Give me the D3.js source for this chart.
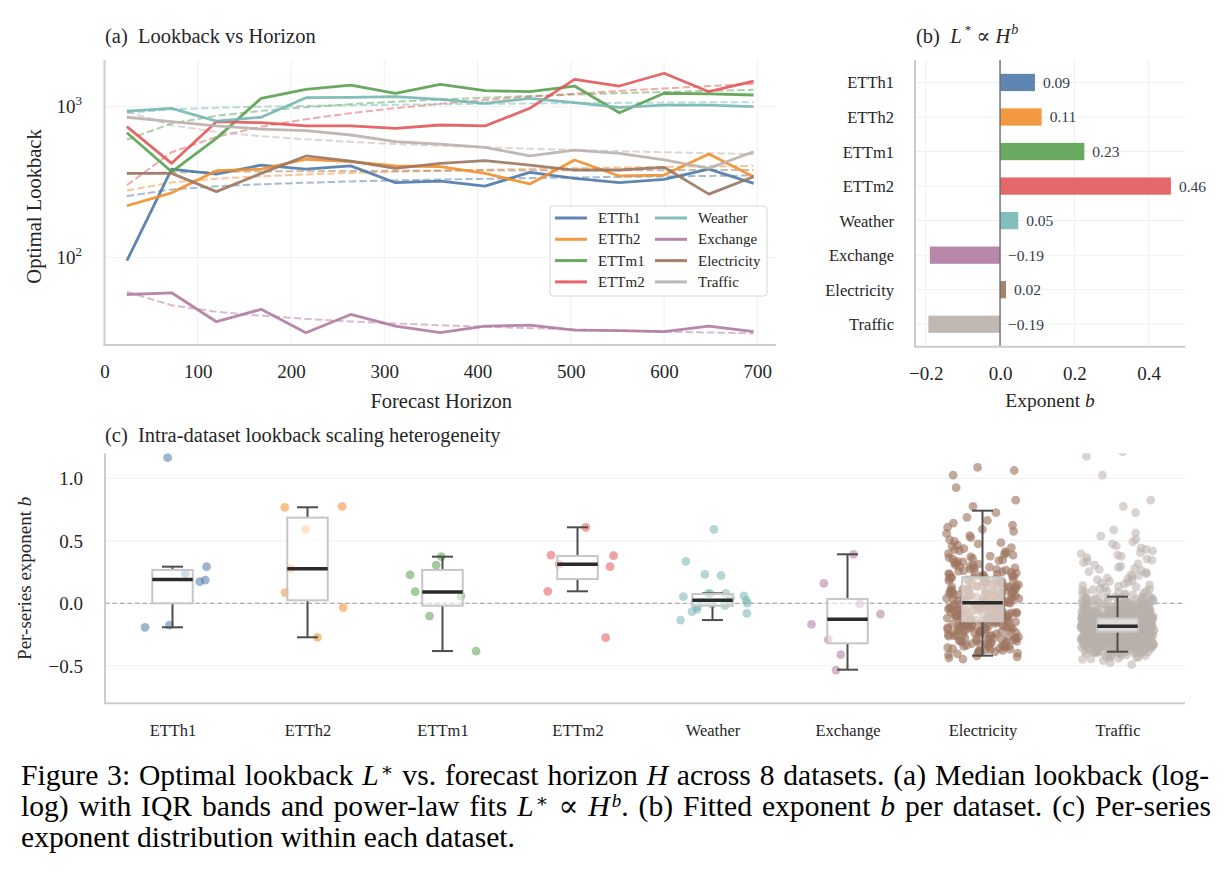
<!DOCTYPE html>
<html>
<head>
<meta charset="utf-8">
<script src="https://cdn.jsdelivr.net/npm/d3@7/dist/d3.min.js"></script>
<style>
  body { margin: 0; background: #fff; }
  svg { font-family: "Liberation Serif", "DejaVu Serif", serif; }
</style>
</head>
<body>
<div id="chart-area"></div>
<script>
const WIDTH = 1227
const HEIGHT = 872

// ---- data ----
const datasets = ["ETTh1", "ETTh2", "ETTm1", "ETTm2", "Weather", "Exchange", "Electricity", "Traffic"]
const colors = ["#4e79a7", "#f28e2b", "#59a14f", "#e15759", "#76b7b2", "#b07aa1", "#9c755f", "#bab0ac"]

// (a) median optimal lookback per forecast horizon
const horizons = [24, 72, 120, 168, 216, 264, 312, 360, 408, 456, 504, 552, 600, 648, 696]
const lookETTh1 = [95, 385, 357, 410, 385, 405, 313, 321, 297, 367, 334, 313, 329, 385, 310]
const lookETTh2 = [220, 268, 376, 385, 448, 432, 404, 400, 361, 307, 443, 347, 352, 485, 343]
const lookETTm1 = [672, 370, 616, 1137, 1304, 1393, 1228, 1408, 1277, 1258, 1372, 912, 1228, 1215, 1196]
const lookETTm2 = [737, 421, 795, 783, 745, 745, 719, 756, 745, 976, 1520, 1372, 1667, 1258, 1481]
const lookWeather = [936, 976, 803, 851, 1148, 1154, 1166, 1120, 1052, 1137, 1063, 991, 1026, 1026, 1000]
const lookExchange = [56.7, 58.2, 37.4, 45.2, 31.6, 41.8, 35.0, 31.6, 35.0, 35.5, 32.9, 32.6, 32.1, 35.0, 32.1]
const lookElectricity = [361, 361, 273, 361, 471, 436, 390, 421, 438, 410, 380, 380, 396, 263, 343]
const lookTraffic = [851, 795, 745, 711, 693, 649, 586, 565, 537, 471, 515, 490, 443, 390, 502]
const lookback = [lookETTh1, lookETTh2, lookETTm1, lookETTm2, lookWeather, lookExchange, lookElectricity, lookTraffic]

// (b) fitted exponent b per dataset
const exponents = [0.094, 0.112, 0.227, 0.460, 0.049, -0.189, 0.016, -0.193]

// (c) per-series exponents
const seriesETTh1 = [1.165, 0.293, 0.24, 0.186, 0.173, -0.174, -0.192]
const seriesETTh2 = [0.768, 0.775, 0.592, 0.277, 0.085, -0.035, -0.272]
const seriesETTm1 = [0.373, 0.306, 0.227, 0.093, 0.058, -0.102, -0.382]
const seriesETTm2 = [0.608, 0.386, 0.381, 0.312, 0.293, 0.096, -0.275]
const seriesWeather = [0.592, 0.336, 0.232, 0.222, 0.08, 0.08, 0.075, 0.06, 0.053, 0.04, 0.024,
  0.018, 0.01, 0.002, -0.008, -0.019, -0.027, -0.048, -0.067, -0.08, -0.134]
const seriesExchange = [0.392, 0.16, -0.005, -0.086, -0.168, -0.291, -0.411, -0.534]
// large datasets: counts per 0.05-wide bin, read from the point cloud
const elecBinStart = -0.45
const elecCounts = [6, 14, 16, 18, 20, 22, 24, 24, 25, 23, 22, 19, 17, 14, 11, 9, 8, 6, 5, 3, 3, 3, 2, 1, 1, 1, 0, 1, 0, 1, 2]
const trafficBinStart = -0.50
const trafficCounts = [3, 14, 45, 70, 100, 150, 162, 110, 70, 45, 25, 12, 9, 7, 6, 6, 5, 5, 4, 3, 2, 2, 0, 0, 1, 1, 1, 0, 0, 0, 1, 0, 0, 1, 2]

// box statistics
const boxQ1 = [0.0, 0.024, -0.019, 0.194, -0.019, -0.32, -0.144, -0.227]
const boxMedian = [0.19, 0.277, 0.09, 0.312, 0.024, -0.128, 0.005, -0.184]
const boxQ3 = [0.267, 0.685, 0.267, 0.378, 0.075, 0.035, 0.208, -0.12]
const whiskerLo = [-0.192, -0.272, -0.382, 0.096, -0.134, -0.531, -0.419, -0.387]
const whiskerHi = [0.293, 0.768, 0.373, 0.608, 0.08, 0.392, 0.741, 0.053]

// tick values
const xTicksA = [0, 100, 200, 300, 400, 500, 600, 700]
const yTicksA = [100, 1000]
const xTicksB = [-0.2, 0.0, 0.2, 0.4]
const yTicksC = [-0.5, 0.0, 0.5, 1.0]

// ---- layout ----
const PA = {LEFT: 104.5, RIGHT: 776, TOP: 60, BOTTOM: 345}
const PB = {LEFT: 915, RIGHT: 1185, TOP: 60, BOTTOM: 346.7}
const PC = {LEFT: 105, RIGHT: 1185, TOP: 453.3, BOTTOM: 703.3}

const TXT = "#262626"
const SPINE = "#cccccc"
const GRID = "#f0f0f0"
const TICK_FS = 19
const LABEL_FS = 20.5

const svg = d3.select("#chart-area").append("svg")
  .attr("width", WIDTH)
  .attr("height", HEIGHT)

svg.append("rect").attr("width", WIDTH).attr("height", HEIGHT).attr("fill", "#fff")

const fmtMinus = s => s.replace("-", "\u2212")

function spines(P) {
  svg.append("line").attr("x1", P.LEFT).attr("x2", P.LEFT).attr("y1", P.TOP).attr("y2", P.BOTTOM)
    .attr("stroke", SPINE).attr("stroke-width", 2)
  svg.append("line").attr("x1", P.LEFT - 1).attr("x2", P.RIGHT).attr("y1", P.BOTTOM).attr("y2", P.BOTTOM)
    .attr("stroke", SPINE).attr("stroke-width", 2)
}

function styleAxis(g, fs) {
  g.select(".domain").remove()
  g.selectAll(".tick line").remove()
  g.selectAll(".tick text").attr("font-size", fs).attr("fill", TXT)
    .attr("font-family", "Liberation Serif")
}

// ================= (a) Lookback vs Horizon =================
const xA = d3.scaleLinear().domain([0, 720]).range([PA.LEFT, PA.RIGHT])
const yA = d3.scaleLog().domain([26.2, 2042]).range([PA.BOTTOM, PA.TOP])

const gA = svg.append("g")

// grid
gA.selectAll(".vgrid").data(xTicksA.slice(1)).enter().append("line")
  .attr("x1", d => xA(d)).attr("x2", d => xA(d)).attr("y1", PA.TOP).attr("y2", PA.BOTTOM)
  .attr("stroke", GRID).attr("stroke-width", 1)
gA.selectAll(".hgrid").data(yTicksA).enter().append("line")
  .attr("x1", PA.LEFT).attr("x2", PA.RIGHT).attr("y1", d => yA(d)).attr("y2", d => yA(d))
  .attr("stroke", GRID).attr("stroke-width", 1)

// fitted power laws, least-squares intercept with the fitted exponent
const meanLogH = d3.mean(horizons, h => Math.log(h))
const fitLine = d3.line().x(d => xA(d[0])).y(d => yA(d[1]))
lookback.forEach((vals, s) => {
  const meanLogL = d3.mean(vals, v => Math.log(v))
  const pts = horizons.map(h => [h, Math.exp(meanLogL + exponents[s] * (Math.log(h) - meanLogH))])
  gA.append("path").datum(pts)
    .attr("d", fitLine)
    .attr("fill", "none")
    .attr("stroke", colors[s])
    .attr("stroke-width", 2)
    .attr("stroke-dasharray", "7.4,3.2")
    .attr("opacity", 0.5)
})

// medians
const medLine = d3.line().x((d, i) => xA(horizons[i])).y(d => yA(d))
lookback.forEach((vals, s) => {
  gA.append("path").datum(vals)
    .attr("d", medLine)
    .attr("fill", "none")
    .attr("stroke", colors[s])
    .attr("stroke-width", 2.8)
    .attr("stroke-linejoin", "round")
    .attr("opacity", 0.9)
})

spines(PA)

// axes
const xAxisA = svg.append("g").attr("transform", `translate(0, ${PA.BOTTOM})`)
  .call(d3.axisBottom(xA).tickValues(xTicksA).tickSize(0).tickPadding(0).tickFormat(d3.format("d")))
styleAxis(xAxisA, TICK_FS)
xAxisA.selectAll(".tick text").attr("y", 33).attr("dy", 0)

const yAxisA = svg.append("g").attr("transform", `translate(${PA.LEFT}, 0)`)
  .call(d3.axisLeft(yA).tickValues(yTicksA).tickSize(0).tickPadding(22.5))
styleAxis(yAxisA, TICK_FS)
yAxisA.selectAll(".tick text").attr("dy", 6).text(null)
  .each(function(d) {
    const t = d3.select(this)
    t.append("tspan").text("10")
    t.append("tspan").attr("dy", -8).attr("font-size", 13).text(Math.round(Math.log10(d)))
  })

svg.append("text").attr("x", (PA.LEFT + PA.RIGHT) / 2 + 1).attr("y", 408)
  .attr("text-anchor", "middle").attr("font-size", LABEL_FS).attr("fill", TXT)
  .text("Forecast Horizon")
svg.append("text").attr("transform", `translate(41, ${(PA.TOP + PA.BOTTOM) / 2 + 4}) rotate(-90)`)
  .attr("text-anchor", "middle").attr("font-size", LABEL_FS).attr("fill", TXT)
  .text("Optimal Lookback")
svg.append("text").attr("x", 105).attr("y", 43)
  .attr("font-size", LABEL_FS).attr("fill", TXT)
  .attr("xml:space", "preserve")
  .text("(a)  Lookback vs Horizon")

// legend
const legend = svg.append("g")
legend.append("rect").attr("x", 550).attr("y", 206).attr("width", 217).attr("height", 90)
  .attr("rx", 3).attr("fill", "#fff").attr("fill-opacity", 0.85)
  .attr("stroke", "#d6d6d6").attr("stroke-width", 1)
datasets.forEach((name, i) => {
  const col = Math.floor(i / 4), row = i % 4
  const lx = 555 + col * 100, ly = 218 + row * 21.3
  legend.append("line").attr("x1", lx).attr("x2", lx + 32).attr("y1", ly).attr("y2", ly)
    .attr("stroke", colors[i]).attr("stroke-width", 3).attr("opacity", 0.9)
  legend.append("text").attr("x", lx + 43).attr("y", ly + 5)
    .attr("font-size", 15).attr("fill", TXT).text(name)
})

// ================= (b) exponent bars =================
const xB = d3.scaleLinear().domain([-0.229, 0.498]).range([PB.LEFT, PB.RIGHT])
const yB = d3.scaleLinear().domain([-0.65, 7.65]).range([PB.TOP, PB.BOTTOM])
const barH = yB(0.5) - yB(0)

const gB = svg.append("g")
gB.selectAll(".vgrid").data(xTicksB).enter().append("line")
  .attr("x1", d => xB(d)).attr("x2", d => xB(d)).attr("y1", PB.TOP).attr("y2", PB.BOTTOM)
  .attr("stroke", GRID).attr("stroke-width", 1)
gB.selectAll(".hgrid").data(datasets).enter().append("line")
  .attr("x1", PB.LEFT).attr("x2", PB.RIGHT).attr("y1", (d, i) => yB(i)).attr("y2", (d, i) => yB(i))
  .attr("stroke", GRID).attr("stroke-width", 1)

gB.selectAll(".bar").data(exponents).enter().append("rect")
  .attr("x", d => xB(Math.min(0, d)))
  .attr("y", (d, i) => yB(i) - barH / 2)
  .attr("width", d => Math.abs(xB(d) - xB(0)))
  .attr("height", barH)
  .attr("fill", (d, i) => colors[i])
  .attr("opacity", 0.9)

gB.append("line").attr("x1", xB(0)).attr("x2", xB(0)).attr("y1", PB.TOP).attr("y2", PB.BOTTOM)
  .attr("stroke", "#6e6e6e").attr("stroke-width", 1.4)

gB.selectAll(".val").data(exponents).enter().append("text")
  .attr("x", d => xB(Math.max(0, d)) + 8)
  .attr("y", (d, i) => yB(i) + 5.5)
  .attr("font-size", 15.5).attr("fill", "#34404e")
  .text(d => d3.format(".2f")(d))

spines(PB)

const xAxisB = svg.append("g").attr("transform", `translate(0, ${PB.BOTTOM})`)
  .call(d3.axisBottom(xB).tickValues(xTicksB).tickSize(0).tickFormat(d => fmtMinus(d3.format(".1f")(d))))
styleAxis(xAxisB, TICK_FS)
xAxisB.selectAll(".tick text").attr("y", 33).attr("dy", 0)

const yAxisB = svg.append("g").attr("transform", `translate(${PB.LEFT}, 0)`)
  .call(d3.axisLeft(yB).tickValues(d3.range(datasets.length)).tickSize(0).tickPadding(21)
    .tickFormat(i => datasets[i]))
styleAxis(yAxisB, 16.5)
yAxisB.selectAll(".tick text").attr("dy", 5.5)

const xLabB = svg.append("text").attr("x", (PB.LEFT + PB.RIGHT) / 2).attr("y", 407)
  .attr("text-anchor", "middle").attr("font-size", LABEL_FS - 1).attr("fill", TXT)
xLabB.append("tspan").text("Exponent ")
xLabB.append("tspan").attr("font-style", "italic").text("b")

const titleB = svg.append("text").attr("x", 916).attr("y", 43)
  .attr("font-size", LABEL_FS).attr("fill", TXT).attr("xml:space", "preserve")
titleB.append("tspan").text("(b)  ")
titleB.append("tspan").attr("font-style", "italic").text("L")
titleB.append("tspan").attr("dy", -9).attr("font-size", 13).text(" *")
titleB.append("tspan").attr("dy", 9).text(" \u221D ")
titleB.append("tspan").attr("font-style", "italic").text("H")
titleB.append("tspan").attr("dx", 1).attr("dy", -9).attr("font-size", 14).attr("font-style", "italic").text("b")

// ================= (c) per-series exponents =================
function fromHistogram(start, width, counts) {
  const vals = []
  counts.forEach((n, k) => {
    for (let j = 0; j < n; j++) vals.push(start + k * width + (j + 0.5) / n * width)
  })
  return vals
}
const seriesAll = [seriesETTh1, seriesETTh2, seriesETTm1, seriesETTm2, seriesWeather, seriesExchange,
  fromHistogram(elecBinStart, 0.05, elecCounts), fromHistogram(trafficBinStart, 0.05, trafficCounts)]

const xC = d3.scaleLinear().domain([-0.5, 7.5]).range([PC.LEFT, PC.RIGHT])
const yC = d3.scaleLinear().domain([-0.8, 1.2]).range([PC.BOTTOM, PC.TOP])
const unit = xC(1) - xC(0)

svg.append("clipPath").attr("id", "clipC").append("rect")
  .attr("x", PC.LEFT).attr("y", PC.TOP).attr("width", PC.RIGHT - PC.LEFT).attr("height", PC.BOTTOM - PC.TOP)

const gC = svg.append("g")
gC.selectAll(".hgrid").data(yTicksC).enter().append("line")
  .attr("x1", PC.LEFT).attr("x2", PC.RIGHT).attr("y1", d => yC(d)).attr("y2", d => yC(d))
  .attr("stroke", GRID).attr("stroke-width", 1)

gC.append("line").attr("x1", PC.LEFT).attr("x2", PC.RIGHT).attr("y1", yC(0)).attr("y2", yC(0))
  .attr("stroke", "#9a9a9a").attr("stroke-width", 1.1).attr("stroke-dasharray", "4.5,3")

// deterministic horizontal spread of the strip points (integer hash of the index)
const jitter = i => {
  let h = Math.imul(i + 0x3c6ef372, 0x85ebca6b)
  h ^= h >>> 13
  h = Math.imul(h, 0xc2b2ae35)
  h ^= h >>> 16
  return ((h >>> 0) / 4294967296 - 0.5) * 0.54
}

const pts = gC.append("g").attr("clip-path", "url(#clipC)")
seriesAll.forEach((vals, c) => {
  pts.selectAll(".p" + c).data(vals).enter().append("circle")
    .attr("cx", (d, i) => xC(c + jitter(i * 7 + c * 1013)))
    .attr("cy", d => yC(d))
    .attr("r", 4.4)
    .attr("fill", colors[c])
    .attr("fill-opacity", c === 6 ? 0.62 : 0.55)
})

// boxes
const boxes = gC.selectAll(".box").data(datasets).enter().append("g")
boxes.append("line")
  .attr("x1", (d, i) => xC(i)).attr("x2", (d, i) => xC(i))
  .attr("y1", (d, i) => yC(boxQ3[i])).attr("y2", (d, i) => yC(whiskerHi[i]))
  .attr("stroke", "#4d4d4d").attr("stroke-width", 2)
boxes.append("line")
  .attr("x1", (d, i) => xC(i)).attr("x2", (d, i) => xC(i))
  .attr("y1", (d, i) => yC(boxQ1[i])).attr("y2", (d, i) => yC(whiskerLo[i]))
  .attr("stroke", "#4d4d4d").attr("stroke-width", 2)
boxes.append("line")
  .attr("x1", (d, i) => xC(i - 0.078)).attr("x2", (d, i) => xC(i + 0.078))
  .attr("y1", (d, i) => yC(whiskerHi[i])).attr("y2", (d, i) => yC(whiskerHi[i]))
  .attr("stroke", "#4d4d4d").attr("stroke-width", 2)
boxes.append("line")
  .attr("x1", (d, i) => xC(i - 0.078)).attr("x2", (d, i) => xC(i + 0.078))
  .attr("y1", (d, i) => yC(whiskerLo[i])).attr("y2", (d, i) => yC(whiskerLo[i]))
  .attr("stroke", "#4d4d4d").attr("stroke-width", 2)
boxes.append("rect")
  .attr("x", (d, i) => xC(i - 0.15))
  .attr("y", (d, i) => yC(boxQ3[i]))
  .attr("width", 0.3 * unit)
  .attr("height", (d, i) => yC(boxQ1[i]) - yC(boxQ3[i]))
  .attr("fill", "#fff").attr("fill-opacity", 0.55)
  .attr("stroke", "#c6c6c6").attr("stroke-width", 2)
boxes.append("line")
  .attr("x1", (d, i) => xC(i - 0.15)).attr("x2", (d, i) => xC(i + 0.15))
  .attr("y1", (d, i) => yC(boxMedian[i])).attr("y2", (d, i) => yC(boxMedian[i]))
  .attr("stroke", "#2b2b2b").attr("stroke-width", 3.4)

spines(PC)

const xAxisC = svg.append("g").attr("transform", `translate(0, ${PC.BOTTOM})`)
  .call(d3.axisBottom(xC).tickValues(d3.range(datasets.length)).tickSize(0).tickFormat(i => datasets[i]))
styleAxis(xAxisC, 16.5)
xAxisC.selectAll(".tick text").attr("y", 33).attr("dy", 0)

const yAxisC = svg.append("g").attr("transform", `translate(${PC.LEFT}, 0)`)
  .call(d3.axisLeft(yC).tickValues(yTicksC).tickSize(0).tickPadding(22)
    .tickFormat(d => fmtMinus(d3.format(".1f")(d))))
styleAxis(yAxisC, TICK_FS)
yAxisC.selectAll(".tick text").attr("dy", 6.5)

const yLabC = svg.append("text").attr("transform", `translate(31, ${(PC.TOP + PC.BOTTOM) / 2}) rotate(-90)`)
  .attr("text-anchor", "middle").attr("font-size", 19).attr("fill", TXT)
yLabC.append("tspan").text("Per-series exponent ")
yLabC.append("tspan").attr("font-style", "italic").text("b")

svg.append("text").attr("x", 105).attr("y", 442)
  .attr("font-size", LABEL_FS).attr("fill", TXT).attr("xml:space", "preserve")
  .text("(c)  Intra-dataset lookback scaling heterogeneity")

// ================= caption =================
const CAP_FS = 29.6
const CAP_W = 1186

// justify a caption line by widening the word gaps
function justify(t) {
  const natural = t.node().getComputedTextLength()
  const spaces = (t.text().match(/ /g) || []).length
  t.attr("word-spacing", (CAP_W - natural) / spaces)
}

const cap1 = svg.append("text").attr("x", 21).attr("y", 785).attr("font-size", CAP_FS).attr("fill", "#000")
cap1.append("tspan").text("Figure 3: Optimal lookback ")
cap1.append("tspan").attr("font-style", "italic").text("L")
cap1.append("tspan").attr("dx", 2).attr("dy", -9).attr("font-size", 19).text("\u2217")
cap1.append("tspan").attr("dy", 9).text(" vs. forecast horizon ")
cap1.append("tspan").attr("font-style", "italic").text("H")
cap1.append("tspan").text(" across 8 datasets. (a) Median lookback (log-")
justify(cap1)

const cap2 = svg.append("text").attr("x", 21).attr("y", 816).attr("font-size", CAP_FS).attr("fill", "#000")
cap2.append("tspan").text("log) with IQR bands and power-law fits ")
cap2.append("tspan").attr("font-style", "italic").text("L")
cap2.append("tspan").attr("dx", 2).attr("dy", -9).attr("font-size", 19).text("\u2217")
cap2.append("tspan").attr("dy", 9).text(" \u221D ")
cap2.append("tspan").attr("font-style", "italic").text("H")
cap2.append("tspan").attr("dx", 2).attr("dy", -9).attr("font-size", 19).attr("font-style", "italic").text("b")
cap2.append("tspan").attr("dy", 9).text(". (b) Fitted exponent ")
cap2.append("tspan").attr("font-style", "italic").text("b")
cap2.append("tspan").text(" per dataset. (c) Per-series")
justify(cap2)

svg.append("text").attr("x", 21).attr("y", 847).attr("font-size", CAP_FS).attr("fill", "#000")
  .text("exponent distribution within each dataset.")
</script>
</body>
</html>
